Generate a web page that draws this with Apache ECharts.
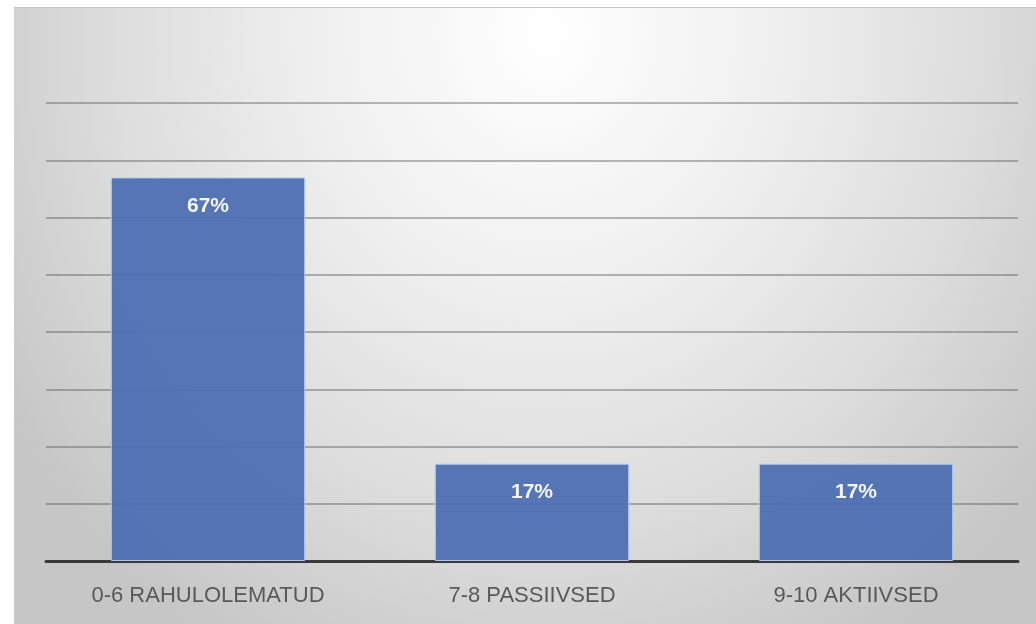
<!DOCTYPE html>
<html>
<head>
<meta charset="utf-8">
<script src="https://cdn.jsdelivr.net/npm/echarts@6/dist/echarts.min.js"></script>
<style>
  html, body { margin: 0; padding: 0; background: #ffffff; }
  #wrap { position: relative; width: 1036px; height: 624px; overflow: hidden; }
  #bg { position: absolute; left: 14px; top: 7px; width: 1022px; height: 617px;
        border-top: 1px solid #c4c4c4;
        background: radial-gradient(ellipse 62% 115% at 52% 4%, #ffffff 0%, #f0f0f0 35%, #dcdcdc 70%, #c6c6c6 100%); }
  #chart { position: absolute; left: 0; top: 0; width: 1036px; height: 624px; }
</style>
</head>
<body>
<div id="wrap">
  <div id="bg"></div>
  <div id="chart"></div>
</div>
<script>
const categories = ['0-6 RAHULOLEMATUD', '7-8 PASSIIVSED', '9-10 AKTIIVSED'];
const values = [67, 17, 17];
const yMax = 80;
const yInterval = 10;

const chart = echarts.init(document.getElementById('chart'), null, { renderer: 'canvas' });
chart.setOption({
  backgroundColor: 'transparent',
  animation: false,
  grid: { left: 46, right: 18, top: 103, bottom: 63, containLabel: false },
  xAxis: {
    type: 'category',
    data: categories,
    axisLine: { show: true, lineStyle: { color: '#3a3a3a', width: 3 } },
    axisTick: { show: false },
    axisLabel: { color: '#595959', fontSize: 22, fontFamily: 'Liberation Sans, Arial, sans-serif', margin: 24 }
  },
  yAxis: {
    type: 'value',
    min: 0,
    max: yMax,
    interval: yInterval,
    axisLine: { show: false },
    axisTick: { show: false },
    axisLabel: { show: false },
    splitLine: { show: true, lineStyle: { color: 'rgba(80,80,80,0.4)', width: 2 } }
  },
  series: [{
    type: 'bar',
    data: values,
    barCategoryGap: '40%',
    itemStyle: { color: '#4a6db0', opacity: 0.93, borderColor: '#b9cdf0', borderWidth: 1 },
    label: {
      show: true,
      position: 'insideTop',
      distance: 18,
      formatter: p => p.value + '%',
      color: '#ffffff',
      fontWeight: 'bold',
      fontSize: 21,
      fontFamily: 'Liberation Sans, Arial, sans-serif'
    }
  }]
});
</script>
</body>
</html>
